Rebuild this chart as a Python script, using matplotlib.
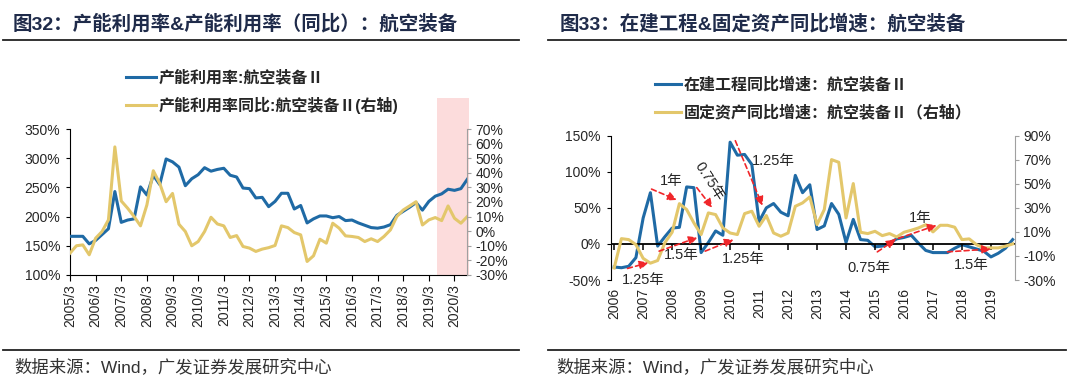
"""Two panels: aviation equipment capacity utilisation, and construction-in-progress vs fixed-asset growth."""

import matplotlib
matplotlib.use("Agg")
import matplotlib.pyplot as plt
import matplotlib.transforms as mtransforms
import numpy as np
from matplotlib.lines import Line2D
from matplotlib.patches import Rectangle


W, H = 1080, 388
BLUE = "#1f6aa5"
GOLD = "#e3c76b"
NAVY = "#1f2b4a"
RED = "#f0262a"
TEXT = "#262626"

# ---- left panel: quarterly, 2005/3 .. 2020/9 ----
LEFT_TICK_LABELS = [
    "2005/3", "2006/3", "2007/3", "2008/3", "2009/3", "2010/3", "2011/3", "2012/3",
    "2013/3", "2014/3", "2015/3", "2016/3", "2017/3", "2018/3", "2019/3", "2020/3",
]
CAP_UTIL = [
    166, 166, 166, 153,
    159, 169, 179, 243,
    190, 194, 196, 251,
    237, 271, 255, 299,
    294, 285, 253, 265,
    272, 284, 278, 281,
    283, 271, 268, 249,
    248, 232, 233, 217,
    226, 240, 240, 213,
    219, 189, 196, 201,
    201, 198, 200, 193,
    194, 189, 185, 181,
    180, 182, 186, 202,
    209, 216, 224, 211,
    226, 235, 239, 247,
    245, 248, 264,
]
CAP_UTIL_YOY = [
    -15.2, -10.1, -9.5, -16.3,
    -4.9, -0.3, 7.7, 57.9,
    20.7, 15.7, 10.0, 3.6,
    18.0, 41.5, 32.8, 20.2,
    25.9, 4.7, -0.3, -10.1,
    -7.2, -0.3, 9.5, 4.9,
    3.6, -4.4, -3.1, -10.6,
    -11.7, -14.0, -12.4, -11.4,
    -9.9, 3.6, 2.4, -1.0,
    -2.6, -20.9, -17.0, -5.6,
    -8.3, 5.4, 2.0, -3.3,
    -3.7, -4.4, -7.2, -5.3,
    -7.2, -3.7, 0.8, 10.0,
    14.5, 17.3, 20.2, 4.2,
    7.7, 9.3, 7.2, 17.3,
    8.8, 5.4, 10.0,
]

# ---- right panel: quarterly, 2006Q1 .. 2019Q4 ----
RIGHT_YEARS = list(range(2006, 2020))
CIP_YOY = [
    -32, -33, -31, -19,
    36, 71, -3, 10,
    22, 23, 79, 78,
    -12, 2, 18, 12,
    141, 123, 124, 110,
    31, 50, 56, 44,
    39, 95, 71, 82,
    20, 25, 56, 41,
    2, 34, 6, 5,
    -4, -3, 1, 7,
    9, 12, 1, -9,
    -12, -12, -12, -6,
    -1, -4, -7, -10,
    -18, -13, -6, 6,
]
FA_YOY = [
    -20, 4.4, 3.6, -0.6,
    -12, -16, -13.8, 1,
    9.7, 33.5, 28.6, 17.5,
    7.8, 25.8, 24.4, 13.3,
    9.1, 7.8, 25.2, 27.2,
    14.7, 23.6, 9.1, 6.4,
    9.1, 31.3, 34.1, 39.1,
    16.1, 28.6, 70.1, 67.9,
    21.6, 50.2, 9.7, 8.6,
    10.5, 6.9, 8.6, 5.8,
    9.7, 11.4, 13.3, 16.0,
    10.0, 15.5, 15.5, 13.9,
    3.6, 4.2, -0.6, -3.3,
    -3.3, -3.3, -1.9, 0.0,
]

# lag arrows: label, arrow start, arrow end, label anchor, rotation (left-axis units)
LAG_NOTES = [
    ("1.25年", (2006.46, -34), (2007.18, -26), (2006.26, -50), 0),
    ("1年", (2007.29, 76), (2008.16, 61), (2007.58, 87), 0),
    ("0.75年", (2008.85, 78), (2009.39, 50), (2009.27, 87), -57),
    ("1.25年", (2010.18, 143), (2011.12, 53), (2010.75, 115), 0),
    ("1.5年", (2007.55, -10), (2008.88, 9), (2007.72, -16), 0),
    ("1.25年", (2009.14, -10), (2010.12, 6), (2009.72, -21), 0),
    ("0.75年", (2015.08, -11), (2015.71, 6), (2014.04, -33), 0),
    ("1年", (2015.54, 4), (2017.13, 26), (2016.18, 36), 0),
    ("1.5年", (2017.50, -11), (2019.00, -7), (2017.73, -29), 0),
]

plt.rcParams["font.family"] = ["Liberation Sans", "Noto Sans CJK SC"]
plt.rcParams["axes.unicode_minus"] = False


def box(x0, y0, x1, y1):
    return [x0 / W, 1 - y1 / H, (x1 - x0) / W, (y1 - y0) / H]


def fig_line(fig, x0, x1, y, color, lw):
    fig.add_artist(Line2D([x0 / W, x1 / W], [1 - y / H, 1 - y / H],
                          transform=fig.transFigure, color=color, lw=lw))


def legend_entry(fig, x0, x1, y, color, label):
    fig_line(fig, x0, x1, y, color, 2.2)
    fig.text((x1 + 3) / W, 1 - y / H, label, fontsize=11.5, fontweight="bold",
             color=TEXT, va="center", ha="left")


def style_axes(ax, axr):
    ax.spines["top"].set_visible(False)
    ax.spines["right"].set_visible(False)
    for side in ("top", "left", "bottom"):
        axr.spines[side].set_visible(False)
    axr.spines["right"].set_color("#a0a0a0")
    ax.tick_params(axis="y", direction="out", length=3, labelsize=10, labelcolor=TEXT, pad=4)
    axr.tick_params(axis="y", direction="out", length=3, labelsize=10, labelcolor=TEXT,
                    color="#a0a0a0", pad=3)


fig = plt.figure(figsize=(W / 100, H / 100), dpi=100)

# ---------------- left panel ----------------
ax1 = fig.add_axes(box(70, 129.3, 467.3, 274.7))
ax1b = ax1.twinx()
x_left = np.arange(len(CAP_UTIL))

shade = Rectangle((57.2, 0), 5.1, 1.215,
                  transform=mtransforms.blended_transform_factory(ax1.transData, ax1.transAxes),
                  facecolor="#fcdcdc", edgecolor="none", clip_on=False, zorder=0)
ax1.add_patch(shade)
ax1.plot(x_left, CAP_UTIL, color=BLUE, lw=2.2, zorder=3)
ax1b.plot(x_left, CAP_UTIL_YOY, color=GOLD, lw=2.2)

ax1.set_xlim(0, len(CAP_UTIL) - 1)
ax1.set_ylim(100, 350)
ax1.set_yticks(range(100, 351, 50))
ax1.set_yticklabels([f"{v}%" for v in range(100, 351, 50)])
ax1.set_xticks(x_left[::4])
ax1.set_xticklabels(LEFT_TICK_LABELS, rotation=90)
ax1.tick_params(axis="x", direction="out", length=4, labelsize=10, labelcolor=TEXT, pad=3)
ax1b.set_ylim(-30, 70)
ax1b.set_yticks(range(-30, 71, 10))
ax1b.set_yticklabels([f"{v}%" for v in range(-30, 71, 10)])
style_axes(ax1, ax1b)

# ---------------- right panel ----------------
ax2 = fig.add_axes(box(610.7, 135.7, 1015, 280))
ax2b = ax2.twinx()
x_right = 2006 + 0.25 * np.arange(len(CIP_YOY))

ax2.plot(x_right, CIP_YOY, color=BLUE, lw=2.2, zorder=3)
ax2b.plot(x_right, FA_YOY, color=GOLD, lw=2.2)
ax2.axhline(0, color="black", lw=1.3, zorder=4)
ax2.plot(RIGHT_YEARS, [0] * len(RIGHT_YEARS), ls="none", marker=3, ms=4, mew=1.1,
         color="black", clip_on=False, zorder=4)

ax2.set_xlim(2005.88, 2019.83)
ax2.set_ylim(-50, 150)
ax2.set_yticks(range(-50, 151, 50))
ax2.set_yticklabels([f"{v}%" for v in range(-50, 151, 50)])
ax2.set_xticks(RIGHT_YEARS)
ax2.set_xticklabels([str(y) for y in RIGHT_YEARS], rotation=90)
ax2.tick_params(axis="x", length=0, labelsize=10, labelcolor=TEXT, pad=6)
ax2.spines["bottom"].set_visible(False)
ax2b.set_ylim(-30, 90)
ax2b.set_yticks(range(-30, 91, 20))
ax2b.set_yticklabels([f"{v}%" for v in range(-30, 91, 20)])
style_axes(ax2, ax2b)

for label, start, end, anchor, rot in LAG_NOTES:
    ax2b.annotate("", xy=end, xytext=start, xycoords=ax2.transData, textcoords=ax2.transData,
                  annotation_clip=False,
                  arrowprops=dict(arrowstyle="-|>", color=RED, lw=1.2, ls=(0, (3, 2)),
                                  mutation_scale=13, shrinkA=0, shrinkB=0))
    if rot:
        ax2b.text(anchor[0], anchor[1], label, transform=ax2.transData, rotation=rot,
                  rotation_mode="anchor", ha="center", va="center", fontsize=10.5, color=TEXT)
    else:
        ax2b.text(anchor[0], anchor[1], label, transform=ax2.transData,
                  ha="left", va="center", fontsize=10.5, color=TEXT, clip_on=False)

# ---------------- titles, legends, sources ----------------
fig.text(13 / W, 1 - 24 / H, "图32：产能利用率&产能利用率（同比）：航空装备",
         fontsize=14, fontweight="bold", color=NAVY, va="center")
fig.text(560 / W, 1 - 24 / H, "图33：在建工程&固定资产同比增速：航空装备",
         fontsize=14, fontweight="bold", color=NAVY, va="center")
fig_line(fig, 3, 519, 40, "#222222", 1.3)
fig_line(fig, 548, 1066, 40, "#222222", 1.3)

legend_entry(fig, 126, 156, 77, BLUE, "产能利用率:航空装备Ⅱ")
legend_entry(fig, 126, 156, 105, GOLD, "产能利用率同比:航空装备Ⅱ(右轴)")
legend_entry(fig, 655, 681, 84, BLUE, "在建工程同比增速：航空装备Ⅱ")
legend_entry(fig, 655, 681, 112, GOLD, "固定资产同比增速：航空装备Ⅱ（右轴）")

fig_line(fig, 3, 519, 350, "#222222", 1.3)
fig_line(fig, 548, 1066, 350, "#222222", 1.3)
fig.text(14 / W, 1 - 367 / H, "数据来源：Wind，广发证券发展研究中心",
         fontsize=12.5, color="#333333", va="center")
fig.text(556 / W, 1 - 367 / H, "数据来源：Wind，广发证券发展研究中心",
         fontsize=12.5, color="#333333", va="center")

fig.savefig("out.png", dpi=100)
